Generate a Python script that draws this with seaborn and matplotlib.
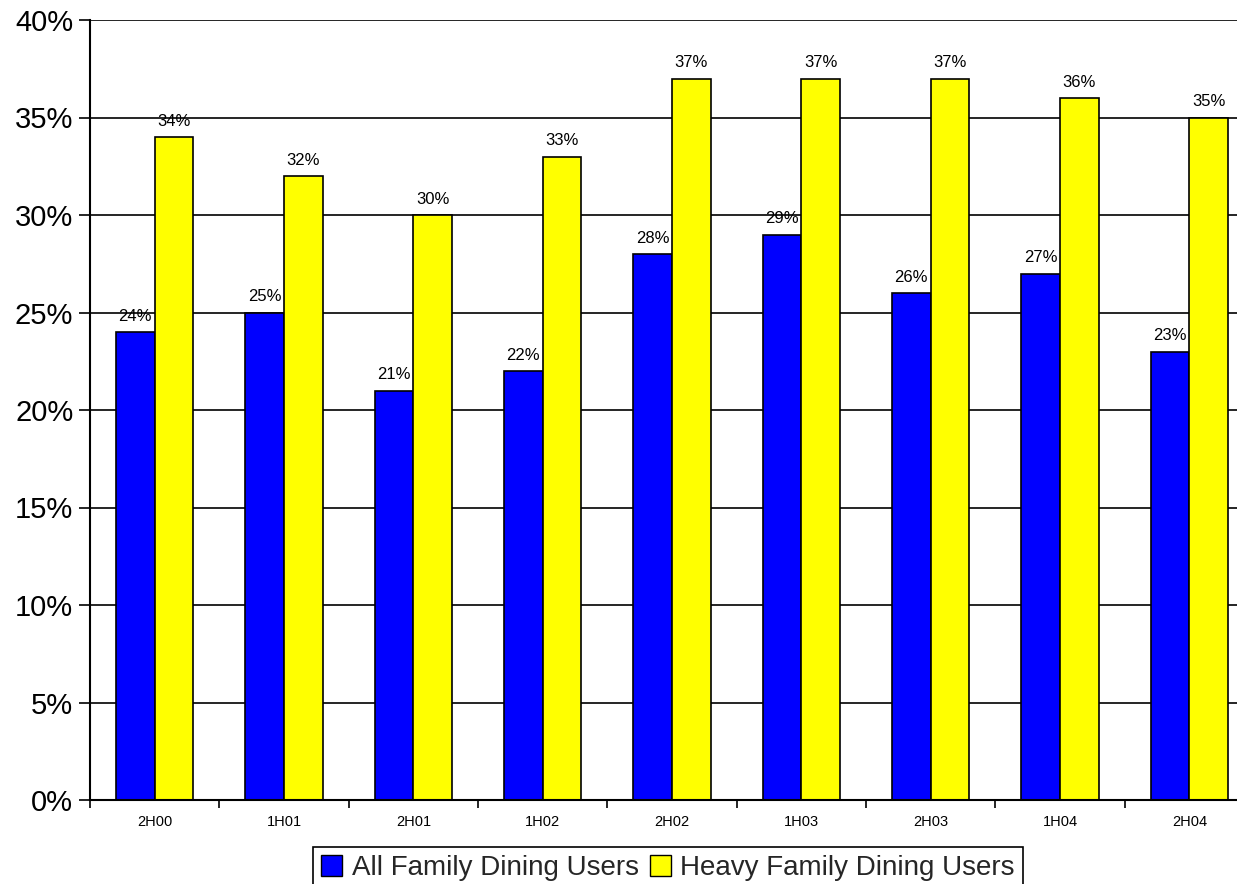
import matplotlib
matplotlib.use("Agg")
import matplotlib.pyplot as plt
from matplotlib.ticker import FixedLocator, PercentFormatter
from matplotlib.patches import Patch
import seaborn as sns
import pandas as pd

periods = ["2H00", "1H01", "2H01", "1H02", "2H02", "1H03", "2H03", "1H04", "2H04"]
all_users = [24, 25, 21, 22, 28, 29, 26, 27, 23]
heavy_users = [34, 32, 30, 33, 37, 37, 37, 36, 35]
series_names = ["All Family Dining Users", "Heavy Family Dining Users"]
colors = ["#0000FF", "#FFFF00"]

df = pd.DataFrame({
    "period": periods * 2,
    "share": all_users + heavy_users,
    "series": [series_names[0]] * len(periods) + [series_names[1]] * len(periods),
})

sns.set_theme(style="white")
plt.rcParams["font.family"] = ["Liberation Sans", "DejaVu Sans"]

fig = plt.figure(figsize=(12.37, 8.84), dpi=100)
ax = fig.add_axes([90 / 1237, 84 / 884, 1164 / 1237, 780 / 884])

sns.barplot(data=df, x="period", y="share", hue="series", order=periods,
            hue_order=series_names, palette=colors, width=0.6, gap=0,
            edgecolor="black", linewidth=1.2, saturation=1, ax=ax,
            legend=False, errorbar=None)

ax.set_xlim(-0.5, len(periods) - 0.5)
ax.set_ylim(0, 40)
ax.yaxis.set_major_locator(FixedLocator(range(0, 41, 5)))
ax.yaxis.set_major_formatter(PercentFormatter(decimals=0))
ax.grid(axis="y", color="black", linewidth=1.2)
ax.set_axisbelow(True)
ax.set_xlabel("")
ax.set_ylabel("")

for side in ["top", "right"]:
    ax.spines[side].set_visible(False)
for side in ["left", "bottom"]:
    ax.spines[side].set_color("black")
    ax.spines[side].set_linewidth(1.5)

ax.tick_params(axis="y", which="major", left=True, length=8, width=1.2,
               color="black", labelsize=21, pad=4, labelcolor="black")
ax.tick_params(axis="x", which="major", bottom=False, labelsize=10.5,
               pad=5, labelcolor="black")
ax.xaxis.set_minor_locator(FixedLocator([k + 0.5 for k in range(-1, len(periods))]))
ax.tick_params(axis="x", which="minor", bottom=True, length=6, width=1.2,
               color="black")

for container in ax.containers:
    ax.bar_label(container, labels=[f"{v:.0f}%" for v in container.datavalues],
                 padding=6, fontsize=12, color="black")

handles = [Patch(facecolor=c, edgecolor="black", linewidth=1.0) for c in colors]
leg = fig.legend(handles, series_names, loc="upper center",
                 bbox_to_anchor=(668 / 1237, 1 - 847 / 884), ncol=2,
                 fontsize=20, frameon=True, fancybox=False, framealpha=1,
                 edgecolor="black", handlelength=0.75, handleheight=0.75,
                 handletextpad=0.35, columnspacing=0.4, borderpad=0.3,
                 borderaxespad=0)
leg.get_frame().set_linewidth(1.2)

fig.savefig("out.png", dpi=100)
